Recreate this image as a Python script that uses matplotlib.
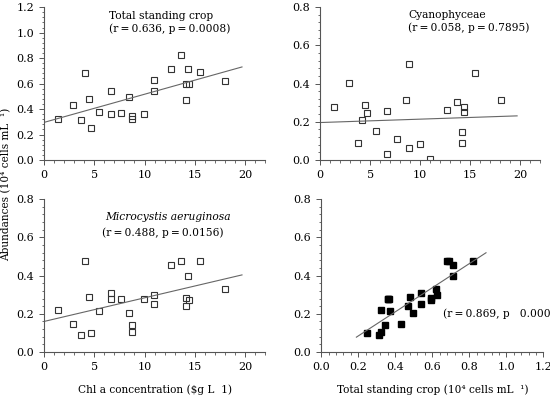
import numpy as np
import matplotlib
matplotlib.use("Agg")
import matplotlib.pyplot as plt
from matplotlib.ticker import AutoMinorLocator

plt.rcParams['font.family'] = ['DejaVu Serif']
plt.rcParams['font.size'] = 8

# chl a concentration per sample
chl = [1.39, 2.85, 3.68, 4.08, 4.44, 4.64, 5.47, 6.67, 6.67, 7.69, 8.49, 8.79,
       8.79, 9.95, 10.9, 10.9, 12.6, 13.6, 14.1, 14.16, 14.3, 14.4, 15.5, 18.0]
total = [0.321, 0.431, 0.311, 0.681, 0.478, 0.248, 0.373, 0.538, 0.363, 0.368, 0.496, 0.342,
         0.324, 0.363, 0.627, 0.540, 0.713, 0.822, 0.593, 0.470, 0.713, 0.593, 0.689, 0.619]
micro = [0.220, 0.145, 0.089, 0.476, 0.289, 0.101, 0.214, 0.307, 0.277, 0.275, 0.206, 0.143,
         0.103, 0.275, 0.300, 0.249, 0.453, 0.476, 0.284, 0.242, 0.397, 0.274, 0.476, 0.328]

# cyanophyceae panel (read separately)
chl_cy = [1.43, 2.89, 3.75, 4.15, 4.48, 4.68, 5.54, 6.73, 6.73, 7.73, 8.56, 8.86,
          8.86, 10.0, 10.98, 12.67, 13.67, 14.2, 14.2, 14.4, 14.4, 15.5, 18.08]
cyano = [0.278, 0.402, 0.091, 0.208, 0.290, 0.246, 0.152, 0.257, 0.033, 0.110, 0.313, 0.500,
         0.061, 0.086, 0.007, 0.259, 0.304, 0.147, 0.091, 0.276, 0.250, 0.456, 0.316]

# regression lines (intercept, slope, x range)
fit_total = (0.295, 0.0221, 0, 19.7)
fit_cyano = (0.196, 0.00177, 0, 19.7)
fit_micro = (0.160, 0.01237, 0, 19.7)
fit_tm = (-0.042, 0.631, 0.19, 0.89)

ts = "\u2009"  # thin space around '='
ylab = "Abundances (10\u2074 cells mL  \u00b9)"

fig = plt.figure(figsize=(5.5, 3.96), dpi=100)

def panel(rect, x, y, fit, xlim, ylim, xt, yt, filled=False):
    ax = fig.add_axes(rect)
    if filled:
        ax.plot(x, y, 's', ms=4.5, mfc='black', mec='black', ls='none')
    else:
        ax.plot(x, y, 's', ms=4.5, mfc='none', mec='#333333', mew=0.8, ls='none')
    a, b, x0, x1 = fit
    xx = np.array([x0, x1])
    ax.plot(xx, a + b * xx, color='#666666', lw=0.8)
    ax.set_xlim(xlim)
    ax.set_ylim(ylim)
    ax.set_xticks(xt)
    ax.set_yticks(yt)
    ax.xaxis.set_minor_locator(AutoMinorLocator(5))
    ax.yaxis.set_minor_locator(AutoMinorLocator(5))
    for s in ['top', 'right']:
        ax.spines[s].set_visible(False)
    for s in ['left', 'bottom']:
        ax.spines[s].set_color('#555555')
        ax.spines[s].set_linewidth(0.8)
    ax.tick_params(which='major', length=3.5, width=0.7, color='#555555', labelsize=8)
    ax.tick_params(which='minor', length=1.8, width=0.6, color='#555555')
    return ax

fs_note = 7.7
fs_lab = 7.6

xt_chl = [0, 5, 10, 15, 20]
ax1 = panel([0.08, 0.596, 0.402, 0.386], chl, total, fit_total, (0, 22), (0, 1.2),
            xt_chl, np.arange(0, 1.21, 0.2))
ax1.set_yticklabels(['%.1f' % v for v in np.arange(0, 1.21, 0.2)])
ax1.text(6.47, 1.13, "Total standing crop", va='center', ha='left', fontsize=fs_note)
ax1.text(6.47, 1.03, f"(r{ts}={ts}0.636, p{ts}={ts}0.0008)", va='center', ha='left', fontsize=fs_note)

ax2 = panel([0.582, 0.596, 0.4, 0.386], chl_cy, cyano, fit_cyano, (0, 22), (0, 0.8),
            xt_chl, np.arange(0, 0.81, 0.2))
ax2.set_yticklabels(['%.1f' % v for v in np.arange(0, 0.81, 0.2)])
ax2.text(8.8, 0.758, "Cyanophyceae", va='center', ha='left', fontsize=fs_note)
ax2.text(8.8, 0.69, f"(r{ts}={ts}0.058, p{ts}={ts}0.7895)", va='center', ha='left', fontsize=fs_note)

ax3 = panel([0.08, 0.111, 0.402, 0.386], chl, micro, fit_micro, (0, 22), (0, 0.8),
            xt_chl, np.arange(0, 0.81, 0.2))
ax3.set_yticklabels(['%.1f' % v for v in np.arange(0, 0.81, 0.2)])
ax3.text(6.1, 0.706, "Microcystis aeruginosa", va='center', ha='left', style='italic', fontsize=fs_note)
ax3.text(5.8, 0.622, f"(r{ts}={ts}0.488, p{ts}={ts}0.0156)", va='center', ha='left', fontsize=fs_note)
ax3.set_xlabel("Chl a concentration ($g L  1)", fontsize=fs_lab, labelpad=9)

ax4 = panel([0.584, 0.111, 0.404, 0.386], total, micro, fit_tm, (0, 1.2), (0, 0.8),
            np.arange(0, 1.21, 0.2), np.arange(0, 0.81, 0.2), filled=True)
ax4.set_xticklabels(['%.1f' % v for v in np.arange(0, 1.21, 0.2)])
ax4.set_yticklabels(['%.1f' % v for v in np.arange(0, 0.81, 0.2)])
ax4.text(0.66, 0.199, f"(r{ts}={ts}0.869, p   0.0001)", va='center', ha='left',
         clip_on=False, fontsize=fs_note)
ax4.set_xlabel("Total standing crop (10\u2074 cells mL  \u00b9)", fontsize=fs_lab, labelpad=9)

fig.text(0.012, 0.535, ylab, rotation=90, ha='center', va='center', fontsize=fs_lab)

fig.savefig("out.png", dpi=100)
